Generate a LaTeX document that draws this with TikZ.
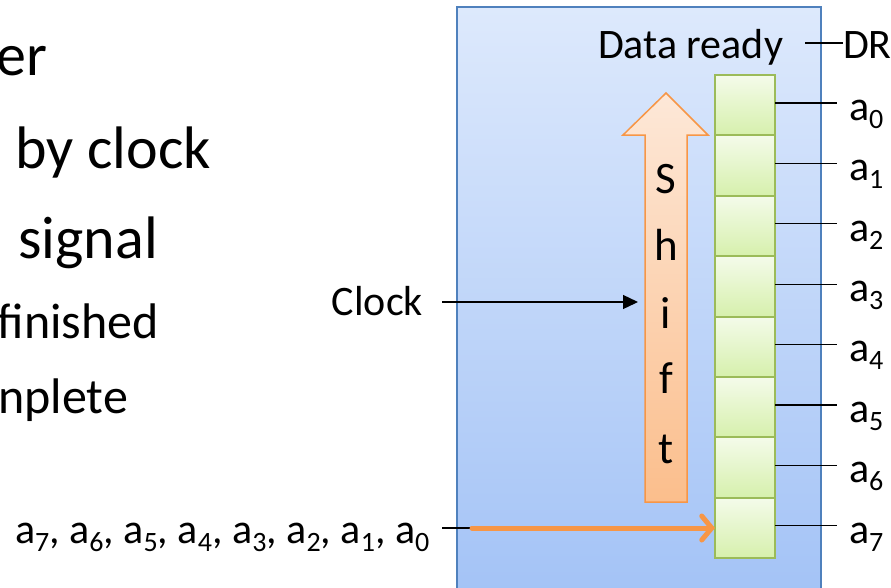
\documentclass[tikz,border=0pt]{standalone}
\usepackage{fontspec}
\setmainfont{Carlito}
\usetikzlibrary{arrows.meta}
\definecolor{boxtop}{RGB}{221,233,252}
\definecolor{boxbot}{RGB}{162,194,246}
\definecolor{boxline}{RGB}{79,129,189}
\definecolor{celltop}{RGB}{244,251,234}
\definecolor{cellbot}{RGB}{214,240,172}
\definecolor{cellline}{RGB}{155,187,89}
\definecolor{shtop}{RGB}{253,232,216}
\definecolor{shbot}{RGB}{251,190,140}
\definecolor{orng}{RGB}{247,150,70}
\newcommand\subd[1]{\raisebox{-8pt}{\fontsize{28}{28}\selectfont #1}}
\newcommand\bigtxt{\fontsize{60}{70}\selectfont}
\newcommand\midtxt{\fontsize{50}{60}\selectfont}
\newcommand\lbltxt{\fontsize{42}{50}\selectfont}
\newcommand\shtxt{\fontsize{45}{54}\selectfont}
\tikzset{
  cell/.style={draw=cellline, line width=2pt, top color=celltop, bottom color=cellbot,
    minimum width=60pt, minimum height=60.4pt, inner sep=0pt, outer sep=0pt},
  txt/.style={inner sep=0pt, outer sep=0pt, font=\lbltxt},
  wire/.style={draw=black, line width=1.3pt},
}
\begin{document}
\begin{tikzpicture}[x=1pt,y=-1pt]
\clip (0,0) rectangle (891,587);
\useasboundingbox (0,0) rectangle (891,587);
% left bullet text (cut off)
\node[txt, font=\bigtxt, anchor=base east] (t1) at (47,75) {er};
\node[txt, font=\bigtxt, anchor=base east] (t2) at (211,168) {by clock};
\node[txt, font=\bigtxt, anchor=base east] (t3) at (158,258) {signal};
\node[txt, font=\midtxt, anchor=base east] (t4) at (159,338) {finished};
\node[txt, font=\midtxt, anchor=base east] (t5) at (128,413) {nplete};
% big box
\path[draw=boxline, line width=1.5pt, top color=boxtop, bottom color=boxbot]
  (457,7) rectangle (821,610);
% shift arrow
\path[draw=orng, line width=1.5pt, top color=shtop, bottom color=shbot]
  (645,502) -- (645,135) -- (623,135) -- (666,93) -- (708,135) -- (687,135) -- (687,502) -- cycle;
\foreach \l/\y in {S/193,h/260,i/328,f/393,t/463}
  \node[txt, font=\shtxt, anchor=base] (s\l) at (666,\y) {\l};
% cells
\foreach \i in {0,...,7}
  \node[cell] (c\i) at (745,{105.2+60.4*\i}) {};
% data ready
\node[txt, anchor=base east] (dr) at (783,58) {Data ready};
\node[txt, anchor=base west] (DR) at (843,58) {DR};
\coordinate (drl) at (805,43);
\draw[wire] (drl) -- (drl -| DR.west);
% outputs
\foreach \i in {0,...,7}{
  \node[txt, anchor=base west] (o\i) at (849,{120.2+60.4*\i}) {a\subd{\i}};
  \coordinate (oe\i) at (837,{103+60.4*\i});
  \draw[wire] (c\i.east |- oe\i) -- (oe\i);
}
% clock
\node[txt, anchor=base east] (clk) at (423,315) {Clock};
\coordinate (clkend) at (638,302);
\draw[wire, -{Triangle[length=15pt,width=14pt]}] (442,302) -- (clkend);
% input
\node[txt, anchor=base west] (inp) at (15,543)
  {a\subd{7}, a\subd{6}, a\subd{5}, a\subd{4}, a\subd{3}, a\subd{2}, a\subd{1}, a\subd{0}};
\coordinate (ostart) at (472,528);
\draw[wire] (442,528) -- (ostart);
\draw[draw=orng, line width=5pt, line cap=round, line join=round,
  -{Straight Barb[length=10pt,width=24pt,line cap=round]}] (ostart) -- (c7.west |- ostart);
\end{tikzpicture}
\end{document}
